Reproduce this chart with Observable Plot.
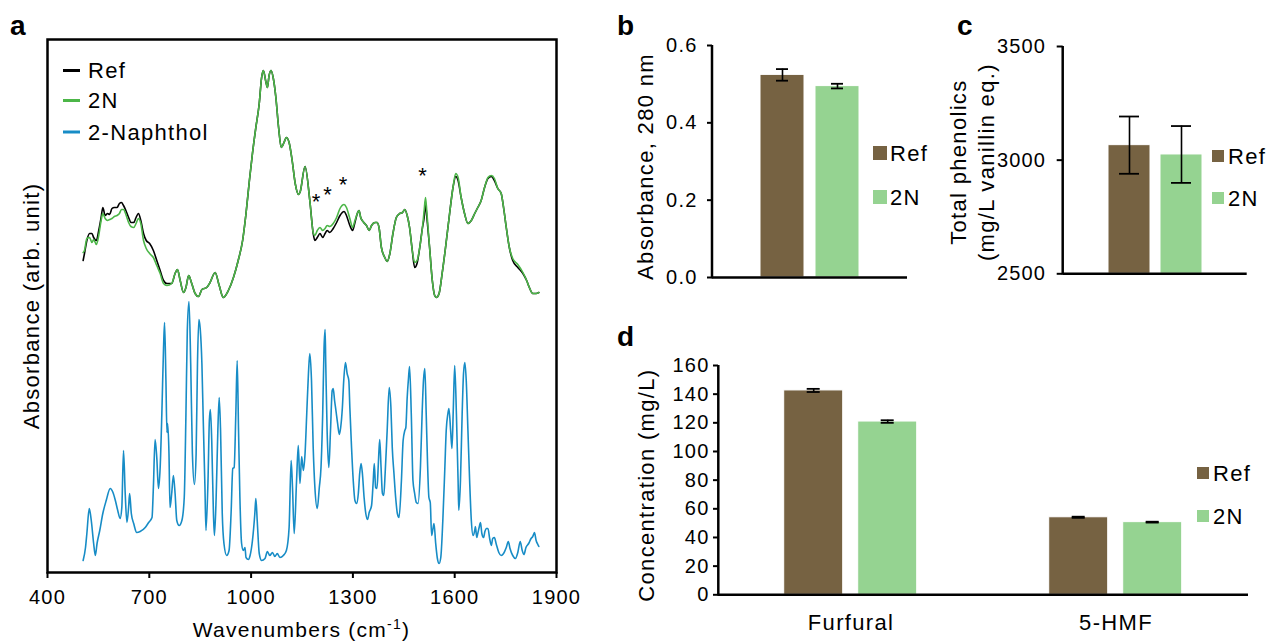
<!DOCTYPE html>
<html>
<head>
<meta charset="utf-8">
<script src="https://cdn.jsdelivr.net/npm/d3@7"></script>
<script src="https://cdn.jsdelivr.net/npm/@observablehq/plot@0.6"></script>
<style>
  html, body { margin:0; padding:0; background:#fff; }
  #fig { position:relative; width:1269px; height:641px; overflow:hidden; background:#fff; font-family:'Liberation Sans', Arial, Helvetica, sans-serif; }
  #fig svg text { letter-spacing: 0.06em; }
</style>
</head>
<body>
<div id="fig"></div>
<script>
// ---------------- DATA ----------------
// Panel a: FTIR spectra (arb. units)
const specWn = [505,509,516,524,531,536,544,551,558,563,570,577,583,590,597,605,612,618,624,631,
639,646,654,661,668,675,683,691,701,712,722,732,742,752,766,776,783,791,801,808,
816,825,835,845,855,869,879,894,906,918,933,948,962,975,985,995,1004,1014,1024,1031,
1036,1044,1048,1053,1059,1065,1073,1081,1089,1097,1104,1112,1121,1130,1140,
1144,1159,1173,1183,1188,1195,1203,1211,1218,1224,1232,1242,1252,1262,1274,1281,1291,1299,1306,1313,
1318,1323,1332,1340,1348,1355,1365,1371,1377,1384,1394,1401,1409,1418,1428,1438,1446,1453,1460,1467,
1475,1482,1489,1497,1505,1510,1514,1518,1526,1534,1541,1546,1554,1563,1573,1585,1595,1603,1610,1619,
1629,1639,1649,1659,1668,1678,1688,1698,1708,1717,1727,1737,1744,1752,1761,1771,1786,1801,1812,1820,
1830,1840,1848];
const refAbs = [312,319,332,339,339,335,332,342,355,365,357,359,358,364,365,365,369,370,367,362,
355,350,350,355,359,352,339,332,329,322,312,302,292,289,289,299,303,292,280,285,
297,289,279,276,283,285,290,300,287,275,282,295,312,332,359,392,419,445,469,495,
502,490,485,497,502,495,475,445,425,430,435,430,412,389,378,
380,406,372,339,332,335,339,335,339,342,340,344,350,357,361,357,347,342,350,359,
362,355,350,347,342,347,350,350,345,325,315,311,319,339,355,359,360,363,357,345,
322,305,309,325,345,355,369,355,325,292,277,275,279,299,325,359,385,396,392,375,
359,349,352,359,365,372,385,394,396,392,384,379,365,345,325,312,305,299,292,285,
279,279,280];
const n2Abs = [320,322,334,335,330,333,328,337,352,359,354,352,353,354,356,357,359,363,363,358,
350,346,345,349,354,349,332,324,319,315,307,299,289,287,289,299,303,292,280,285,
297,289,279,276,283,285,290,300,287,275,282,295,312,332,359,392,419,445,469,495,
502,490,485,497,502,495,475,445,425,430,435,430,412,389,378,
380,406,372,340,337,342,345,342,344,347,346,349,355,364,368,365,354,345,352,359,
362,355,350,347,342,347,350,350,345,325,315,311,319,339,355,359,360,363,357,345,
322,310,312,325,345,362,375,360,325,292,277,275,279,299,325,359,385,399,395,375,
359,349,352,359,365,372,385,395,397,394,384,379,365,345,325,314,308,300,292,285,
279,279,280];
const naphWn = [505,512,516,523,529,536,541,546,554,563,
573,585,593,600,607,614,619,624,629,634,
639,642,647,654,663,673,688,698,708,712,
717,722,727,732,737,742,745,749,752,754,
758,761,766,771,776,781,788,796,803,808,
812,817,822,827,833,838,842,846,850,855,
859,864,867,873,877,880,884,889,892,897,
902,906,910,915,920,928,935,941,946,950,
955,959,963,967,972,977,982,985,992,997,
1004,1011,1014,1018,1024,1031,1041,1048,1055,1063,
1070,1077,1085,1095,1104,1112,1118,1122,1127,1134,
1139,1144,1149,1154,1159,1164,1169,1173,1178,1183,
1188,1195,1201,1206,1211,1215,1218,1220,1224,1229,
1234,1239,1242,1246,1250,1255,1260,1264,1269,1273,
1278,1283,1288,1291,1296,1301,1306,1311,1316,1320,
1324,1328,1333,1338,1343,1348,1355,1360,1363,1367,
1371,1375,1379,1383,1387,1391,1395,1401,1407,1412,
1416,1421,1426,1431,1436,1443,1448,1453,1456,1460,
1464,1467,1472,1477,1482,1487,1492,1499,1504,1508,
1512,1516,1520,1524,1528,1532,1536,1539,1544,1549,
1554,1559,1565,1571,1575,1580,1583,1588,1592,1596,
1600,1605,1610,1612,1617,1622,1626,1630,1634,1639,
1644,1649,1654,1659,1661,1665,1668,1672,1676,1680,
1685,1689,1693,1698,1703,1708,1712,1717,1722,1730,
1737,1744,1752,1758,1763,1771,1779,1786,1793,1799,
1804,1810,1818,1825,1830,1835,1840,1845,1848];
const naphAbs = [12,25,39,64,52,29,17,29,42,59,
72,84,80,72,62,54,65,122,79,50,
65,79,59,49,40,41,45,50,55,85,
133,115,84,105,159,225,250,192,140,149,
119,65,79,97,79,52,47,52,75,159,
242,271,209,119,88,119,209,253,244,209,
152,85,42,92,152,163,132,59,37,75,
142,175,142,59,29,17,22,59,104,105,
159,212,142,75,29,22,25,15,13,17,
32,59,74,52,19,12,14,21,17,20,
16,19,15,17,22,45,112,85,39,92,
127,89,116,102,119,159,199,219,192,125,
85,64,85,105,159,225,243,209,142,105,
142,182,184,172,162,149,138,145,165,192,
210,199,192,165,125,92,72,69,79,99,
109,99,75,59,53,60,67,92,109,85,
84,109,133,105,79,77,99,142,185,165,
125,99,75,59,55,92,132,142,145,175,
195,206,159,92,79,70,69,105,159,192,
204,159,109,75,70,37,44,49,29,14,
9,15,52,105,142,159,164,142,124,165,
207,159,92,62,92,159,199,210,192,142,
92,52,37,42,46,35,39,45,50,39,
35,41,44,44,34,27,34,35,29,20,
17,19,25,31,24,17,14,20,31,22,
18,25,29,34,36,40,32,28,26];
const starWn = [1193, 1227, 1273, 1507];
const starAbs = [377, 384, 394, 403];
const wnTicks = [400, 700, 1000, 1300, 1600, 1900];
const spectraNames = ["Ref", "2N", "2-Naphthol"];

// Panels b, c, d
const series = ["Ref", "2N"];
const abs280 = [0.524, 0.495];
const abs280Err = [0.015, 0.006];
const abs280Ticks = [0, 0.2, 0.4, 0.6];
const phenolics = [3066, 3025];
const phenolicsErr = [126, 125];
const phenolicsTicks = [2500, 3000, 3500];
const compounds = ["Furfural", "5-HMF"];
const concRef = [142.6, 54.1];
const concRefErr = [1.1, 0.4];
const conc2N = [120.9, 50.7];
const conc2NErr = [0.9, 0.3];
const concTicks = [0, 20, 40, 60, 80, 100, 120, 140, 160];

// ---------------- STYLE ----------------
const FONT = "'Liberation Sans', Arial, Helvetica, sans-serif";
const BROWN = "#766242", LGREEN = "#95d391";
const LINE_COLORS = ["#000000", "#4cb648", "#178cc6"];
const baseStyle = {fontFamily: FONT, fontSize: "20px", color: "#000", background: "transparent", overflow: "visible"};
const colorScale = {domain: series, range: [BROWN, LGREEN]};

const fig = document.getElementById("fig");
function place(el, left, top) {
  el.style.position = "absolute";
  el.style.left = left + "px";
  el.style.top = top + "px";
  fig.appendChild(el);
  return el;
}
function yAxisLine(svg, chart, x) {
  const r = chart.scale("y").range;
  d3.select(svg).append("line")
    .attr("x1", x).attr("x2", x).attr("y1", r[0] + 1.25).attr("y2", r[1])
    .attr("stroke", "#000").attr("stroke-width", 2.5);
}

// ---------------- PANEL A ----------------
const spec = specWn.map((w, i) => ({wn: w, ref: refAbs[i], n2: n2Abs[i]}));
const naph = naphWn.map((w, i) => ({wn: w, a: naphAbs[i]}));
const stars = starWn.map((w, i) => ({wn: w, a: starAbs[i]}));

const chartA = Plot.plot({
  width: 600, height: 641,
  marginLeft: 47, marginRight: 44, marginTop: 39, marginBottom: 69,
  style: baseStyle,
  x: {domain: [400, 1900]},
  y: {domain: [0, 533], axis: null},
  marks: [
    Plot.line(naph, {x: "wn", y: "a", stroke: LINE_COLORS[2], strokeWidth: 1.6, curve: "monotone-x"}),
    Plot.line(spec, {x: "wn", y: "ref", stroke: LINE_COLORS[0], strokeWidth: 1.6, curve: "monotone-x"}),
    Plot.line(spec, {x: "wn", y: "n2", stroke: LINE_COLORS[1], strokeWidth: 1.6, curve: "monotone-x"}),
    Plot.text(stars, {x: "wn", y: "a", text: () => "*", fontSize: 22, dy: 6}),
    Plot.frame({stroke: "#000", strokeWidth: 2.5}),
    Plot.axisX({ticks: wnTicks, tickFormat: d3.format("d"), tickSize: 6, tickPadding: 11, strokeWidth: 2, label: null}),
    Plot.text(["Absorbance (arb. unit)"], {frameAnchor: "left", textAnchor: "middle", rotate: -90, dx: -16, fontSize: 22})
  ]
});
place(chartA, 0, 0);

// ---------------- PANEL B ----------------
const absRows = series.map((s, i) => ({s, v: abs280[i], e: abs280Err[i]}));
const chartB = Plot.plot({
  width: 330, height: 300,
  marginLeft: 112, marginRight: 23, marginTop: 45, marginBottom: 23,
  style: baseStyle,
  x: {domain: series, paddingInner: 0.2, paddingOuter: 0.867, axis: null},
  y: {domain: [0, 0.6]},
  color: colorScale,
  marks: [
    Plot.barY(absRows, {x: "s", y: "v", fill: "s", stroke: "#fff", strokeWidth: 1}),
    Plot.ruleX(absRows, {x: "s", y1: d => d.v - d.e, y2: d => d.v + d.e, stroke: "#000", strokeWidth: 1.6}),
    Plot.tickY(absRows, {x: "s", y: d => d.v - d.e, insetLeft: 16, insetRight: 16, stroke: "#000", strokeWidth: 1.8}),
    Plot.tickY(absRows, {x: "s", y: d => d.v + d.e, insetLeft: 16, insetRight: 16, stroke: "#000", strokeWidth: 1.8}),
    Plot.ruleY([0], {stroke: "#000", strokeWidth: 2.5}),
    Plot.axisY({ticks: abs280Ticks, tickFormat: d3.format(".1f"), tickSize: 5, tickPadding: 10, strokeWidth: 2, label: null}),
    Plot.text(["Absorbance, 280 nm"], {frameAnchor: "left", textAnchor: "middle", rotate: -90, dx: -67, dy: 5, fontSize: 22})
  ]
});
yAxisLine(chartB, chartB, 112);
place(chartB, 600, 0);

// ---------------- PANEL C ----------------
const phenRows = series.map((s, i) => ({s, v: phenolics[i], e: phenolicsErr[i]}));
const chartC = Plot.plot({
  width: 339, height: 300,
  marginLeft: 132.7, marginRight: 22.3, marginTop: 46, marginBottom: 26.7,
  style: baseStyle,
  x: {domain: series, paddingInner: 0.2, paddingOuter: 0.867, axis: null},
  y: {domain: [phenolicsTicks[0], phenolicsTicks[2]]},
  color: colorScale,
  marks: [
    Plot.barY(phenRows, {x: "s", y1: phenolicsTicks[0], y2: "v", fill: "s", stroke: "#fff", strokeWidth: 1}),
    Plot.ruleX(phenRows, {x: "s", y1: d => d.v - d.e, y2: d => d.v + d.e, stroke: "#000", strokeWidth: 1.6}),
    Plot.tickY(phenRows, {x: "s", y: d => d.v - d.e, insetLeft: 11, insetRight: 11, stroke: "#000", strokeWidth: 1.8}),
    Plot.tickY(phenRows, {x: "s", y: d => d.v + d.e, insetLeft: 11, insetRight: 11, stroke: "#000", strokeWidth: 1.8}),
    Plot.ruleY([phenolicsTicks[0]], {stroke: "#000", strokeWidth: 2.5}),
    Plot.axisY({ticks: phenolicsTicks, tickFormat: d3.format("d"), tickSize: 6, tickPadding: 11, strokeWidth: 2, label: null}),
    Plot.text(["Total phenolics\n(mg/L vanillin eq.)"], {frameAnchor: "left", textAnchor: "middle", rotate: -90, dx: -92, dy: 2, fontSize: 22, lineHeight: 1.29})
  ]
});
yAxisLine(chartC, chartC, 132.7);
place(chartC, 930, 0);

// ---------------- PANEL D ----------------
const concRows = [];
compounds.forEach((c, i) => {
  concRows.push({c, s: series[0], v: concRef[i], e: concRefErr[i]});
  concRows.push({c, s: series[1], v: conc2N[i], e: conc2NErr[i]});
});
const chartD = Plot.plot({
  width: 669, height: 321,
  marginLeft: 118.3, marginRight: 20.7, marginTop: 45, marginBottom: 46.7,
  style: baseStyle,
  fx: {domain: compounds, padding: 0, label: null},
  x: {domain: series, paddingInner: 0.2, paddingOuter: 0.867, axis: null},
  y: {domain: [0, 160]},
  color: colorScale,
  marks: [
    Plot.barY(concRows, {fx: "c", x: "s", y: "v", fill: "s", stroke: "#fff", strokeWidth: 1}),
    Plot.ruleX(concRows, {fx: "c", x: "s", y1: d => d.v - d.e, y2: d => d.v + d.e, stroke: "#000", strokeWidth: 1.6}),
    Plot.tickY(concRows, {fx: "c", x: "s", y: d => d.v - d.e, insetLeft: 23, insetRight: 23, stroke: "#000", strokeWidth: 1.8}),
    Plot.tickY(concRows, {fx: "c", x: "s", y: d => d.v + d.e, insetLeft: 23, insetRight: 23, stroke: "#000", strokeWidth: 1.8}),
    Plot.ruleY([0], {stroke: "#000", strokeWidth: 2.5}),
    Plot.axisY({ticks: concTicks, tickFormat: d3.format("d"), tickSize: 5, tickPadding: 4, strokeWidth: 2, label: null}),
    Plot.axisFx({anchor: "bottom", tickSize: 0, tickPadding: 20, label: null, fontSize: 22}),
    Plot.text([{c: compounds[0], t: "Concentration (mg/L)"}], {fx: "c", text: "t", frameAnchor: "left", textAnchor: "middle", rotate: -90, dx: -71.6, dy: 5, fontSize: 22})
  ]
});
yAxisLine(chartD, chartD, 118.3);
place(chartD, 600, 320);

// ---------------- OVERLAY: panel letters, legends, x title ----------------
const ov = d3.create("svg").attr("width", 1269).attr("height", 641)
  .style("font-family", FONT).style("overflow", "visible");
const letters = ["a", "b", "c", "d"];
const letterPos = [[10, 35], [617, 35], [957, 35], [617, 346]];
letters.forEach((t, i) => {
  ov.append("text").attr("x", letterPos[i][0]).attr("y", letterPos[i][1])
    .attr("font-size", 28).attr("font-weight", "bold").text(t);
});
// legend a
const legAy = [70.5, 100.5, 132];
spectraNames.forEach((t, i) => {
  ov.append("line").attr("x1", 63).attr("x2", 80).attr("y1", legAy[i]).attr("y2", legAy[i])
    .attr("stroke", LINE_COLORS[i]).attr("stroke-width", 3);
  ov.append("text").attr("x", 88).attr("y", legAy[i] + 7.8).attr("font-size", 22).text(t);
});
// bar legends
function barLegend(x, ys, size, tx) {
  series.forEach((s, i) => {
    ov.append("rect").attr("x", x).attr("y", ys[i]).attr("width", size).attr("height", size)
      .attr("fill", colorScale.range[i]);
    ov.append("text").attr("x", tx).attr("y", ys[i] + size / 2 + 7.8).attr("font-size", 22).text(s);
  });
}
barLegend(873, [146, 190], 14, 890);
barLegend(1212, [150, 192], 12, 1228);
barLegend(1197, [467, 510], 12, 1213);
// x title of panel a
const xt = ov.append("text").attr("x", 301.5).attr("y", 637).attr("text-anchor", "middle").attr("font-size", 21);
xt.append("tspan").text("Wavenumbers (cm");
xt.append("tspan").attr("font-size", 14).attr("dy", -8).text("-1");
xt.append("tspan").attr("dy", 8).text(")");
place(ov.node(), 0, 0);
</script>
</body>
</html>
